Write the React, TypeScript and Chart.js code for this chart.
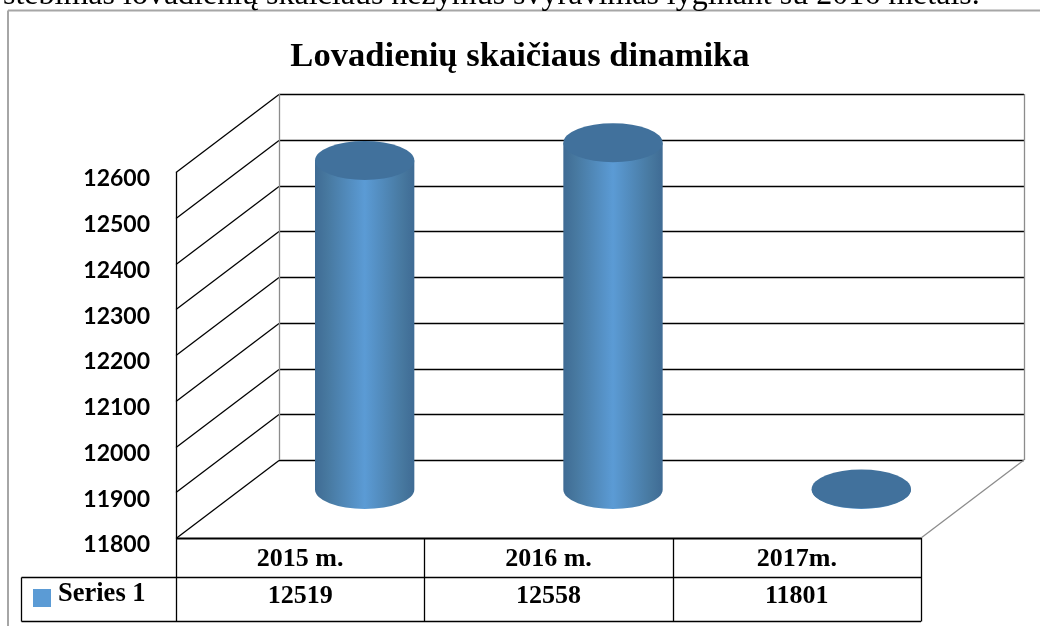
import React, { useEffect, useRef } from "react";
import { Chart, registerables } from "chart.js";

Chart.register(...registerables);

const categories = ["2015 m.", "2016 m.", "2017m."];
const seriesName = "Series 1";
const seriesValues = [12519, 12558, 11801];
const titleText = "Lovadienių skaičiaus dinamika";
const clippedLine = "stebimas lovadienių skaičiaus nežymus svyravimas lyginant su 2016 metais.";

const SERIF = '"Liberation Serif", "Times New Roman", serif';
const WALL_DX = 103;
const WALL_DY = 78;
const BAR_DX = 64.5;
const BAR_DY = 48.5;
const RY = 19.5;

function line(ctx: CanvasRenderingContext2D, x1: number, y1: number, x2: number, y2: number, color = "#000", w = 1.3) {
  ctx.beginPath();
  ctx.strokeStyle = color;
  ctx.lineWidth = w;
  ctx.moveTo(x1, y1);
  ctx.lineTo(x2, y2);
  ctx.stroke();
}

const walls = {
  id: "walls",
  beforeDatasetsDraw(chart: any) {
    const { ctx, chartArea: a, scales } = chart;
    const y = scales.y;
    ctx.save();
    line(ctx, 8, 626, 8, 10.5, "#a6a6a6", 2);
    line(ctx, 8, 10.5, 1040, 10.5, "#a6a6a6", 2);
    const backR = a.right + WALL_DX;
    const backL = a.left + WALL_DX;
    y.ticks.forEach((t: any) => {
      const p = Math.round(y.getPixelForValue(t.value)) + 0.5;
      line(ctx, a.left, p, backL, p - WALL_DY);
      line(ctx, backL, p - WALL_DY, backR, p - WALL_DY);
    });
    line(ctx, a.left + 0.5, a.top, a.left + 0.5, a.bottom);
    const b = a.bottom - WALL_DY;
    line(ctx, backL + 0.5, a.top - WALL_DY, backL + 0.5, b, "#8c8c8c");
    line(ctx, backR + 0.5, a.top - WALL_DY, backR + 0.5, b, "#8c8c8c");
    line(ctx, backR, b, a.right, a.bottom, "#8c8c8c");
    ctx.restore();
  },
};

const cylinders = {
  id: "cylinders",
  afterDatasetsDraw(chart: any) {
    const { ctx, scales } = chart;
    const meta = chart.getDatasetMeta(0);
    const floor = scales.y.getPixelForValue(scales.y.min);
    ctx.save();
    meta.data.forEach((bar: any) => {
      const cx = bar.x + BAR_DX;
      const rx = bar.width / 2;
      const top = bar.y - BAR_DY;
      const base = floor - BAR_DY;
      const g = ctx.createLinearGradient(cx - rx, 0, cx + rx, 0);
      g.addColorStop(0, "#3f6b94");
      g.addColorStop(0.12, "#47789f");
      g.addColorStop(0.5, "#5b9bd5");
      g.addColorStop(0.88, "#47789f");
      g.addColorStop(1, "#3f6b94");
      ctx.beginPath();
      ctx.moveTo(cx - rx, top);
      ctx.lineTo(cx - rx, base);
      ctx.ellipse(cx, base, rx, RY, 0, Math.PI, 0, true);
      ctx.lineTo(cx + rx, top);
      ctx.closePath();
      ctx.fillStyle = g;
      ctx.fill();
      ctx.beginPath();
      ctx.ellipse(cx, top, rx, RY, 0, 0, Math.PI * 2);
      ctx.fillStyle = "#41719c";
      ctx.fill();
    });
    ctx.restore();
  },
};

const dataTable = {
  id: "dataTable",
  afterDraw(chart: any) {
    const { ctx, chartArea: a, scales } = chart;
    const x = scales.x;
    const rowMid = 577.5;
    const rowEnd = 621.5;
    const left = 21.5;
    ctx.save();
    line(ctx, a.left, a.bottom + 0.5, a.right, a.bottom + 0.5, "#000", 2);
    line(ctx, left, rowMid, a.right, rowMid);
    line(ctx, left, rowEnd, a.right, rowEnd);
    line(ctx, left, rowMid, left, rowEnd);
    const half = (x.getPixelForValue(1) - x.getPixelForValue(0)) / 2;
    line(ctx, a.left + 0.5, a.bottom, a.left + 0.5, rowEnd);
    categories.forEach((_, i) => {
      const p = Math.round(x.getPixelForValue(i) + half) + 0.5;
      line(ctx, p, a.bottom, p, rowEnd);
    });
    ctx.fillStyle = "#5b9bd5";
    ctx.fillRect(33, 589, 18, 18);
    ctx.fillStyle = "#000";
    ctx.font = `bold 26.5px ${SERIF}`;
    ctx.textBaseline = "alphabetic";
    ctx.textAlign = "left";
    ctx.fillText(seriesName, 58, 601);
    ctx.font = `bold 26px ${SERIF}`;
    ctx.textAlign = "center";
    seriesValues.forEach((v, i) => {
      ctx.fillText(String(v), x.getPixelForValue(i), 603);
    });
    ctx.font = `32px ${SERIF}`;
    ctx.textAlign = "left";
    ctx.fillText(clippedLine, 3, 4);
    ctx.restore();
  },
};

export default function App() {
  const ref = useRef<HTMLCanvasElement | null>(null);
  useEffect(() => {
    if (!ref.current) return;
    const chart = new Chart(ref.current, {
      type: "bar",
      data: {
        labels: categories,
        datasets: [
          {
            label: seriesName,
            data: seriesValues,
            backgroundColor: "rgba(0,0,0,0)",
            barPercentage: 0.4,
            categoryPercentage: 1,
          },
        ],
      },
      plugins: [walls, cylinders, dataTable],
      options: {
        animation: false,
        responsive: false,
        layout: { padding: 0 },
        plugins: {
          legend: { display: false },
          tooltip: { enabled: false },
          title: {
            display: true,
            text: titleText,
            color: "#000",
            font: { family: SERIF, size: 34.6, weight: "bold", lineHeight: 1.2 },
            padding: { top: 36, bottom: 94.5 },
          },
        },
        scales: {
          x: {
            grid: { display: false },
            border: { display: false },
            afterFit: (s: any) => {
              s.height = 88;
            },
            ticks: {
              color: "#000",
              maxRotation: 0,
              padding: -2,
              font: { family: SERIF, size: 26, weight: "bold" },
            },
          },
          y: {
            min: 11800,
            max: 12600,
            grid: { display: false, drawTicks: false },
            border: { display: false },
            afterFit: (s: any) => {
              s.width = 176;
            },
            ticks: {
              stepSize: 100,
              color: "#000",
              padding: 26,
              labelOffset: 7,
              font: { family: "Lato", size: 23, weight: "bold" },
              callback: (v: any) => String(v),
            },
          },
          pad: {
            position: "right",
            display: true,
            grid: { display: false },
            border: { display: false },
            ticks: { display: false },
            afterFit: (s: any) => {
              s.width = 119;
            },
          },
        },
      } as any,
    });
    return () => chart.destroy();
  }, []);
  return (
    <div style={{ position: "fixed", left: 0, top: 0, width: 1040, height: 626, background: "#fff" }}>
      <canvas ref={ref} width={1040} height={626} style={{ display: "block" }} />
    </div>
  );
}
